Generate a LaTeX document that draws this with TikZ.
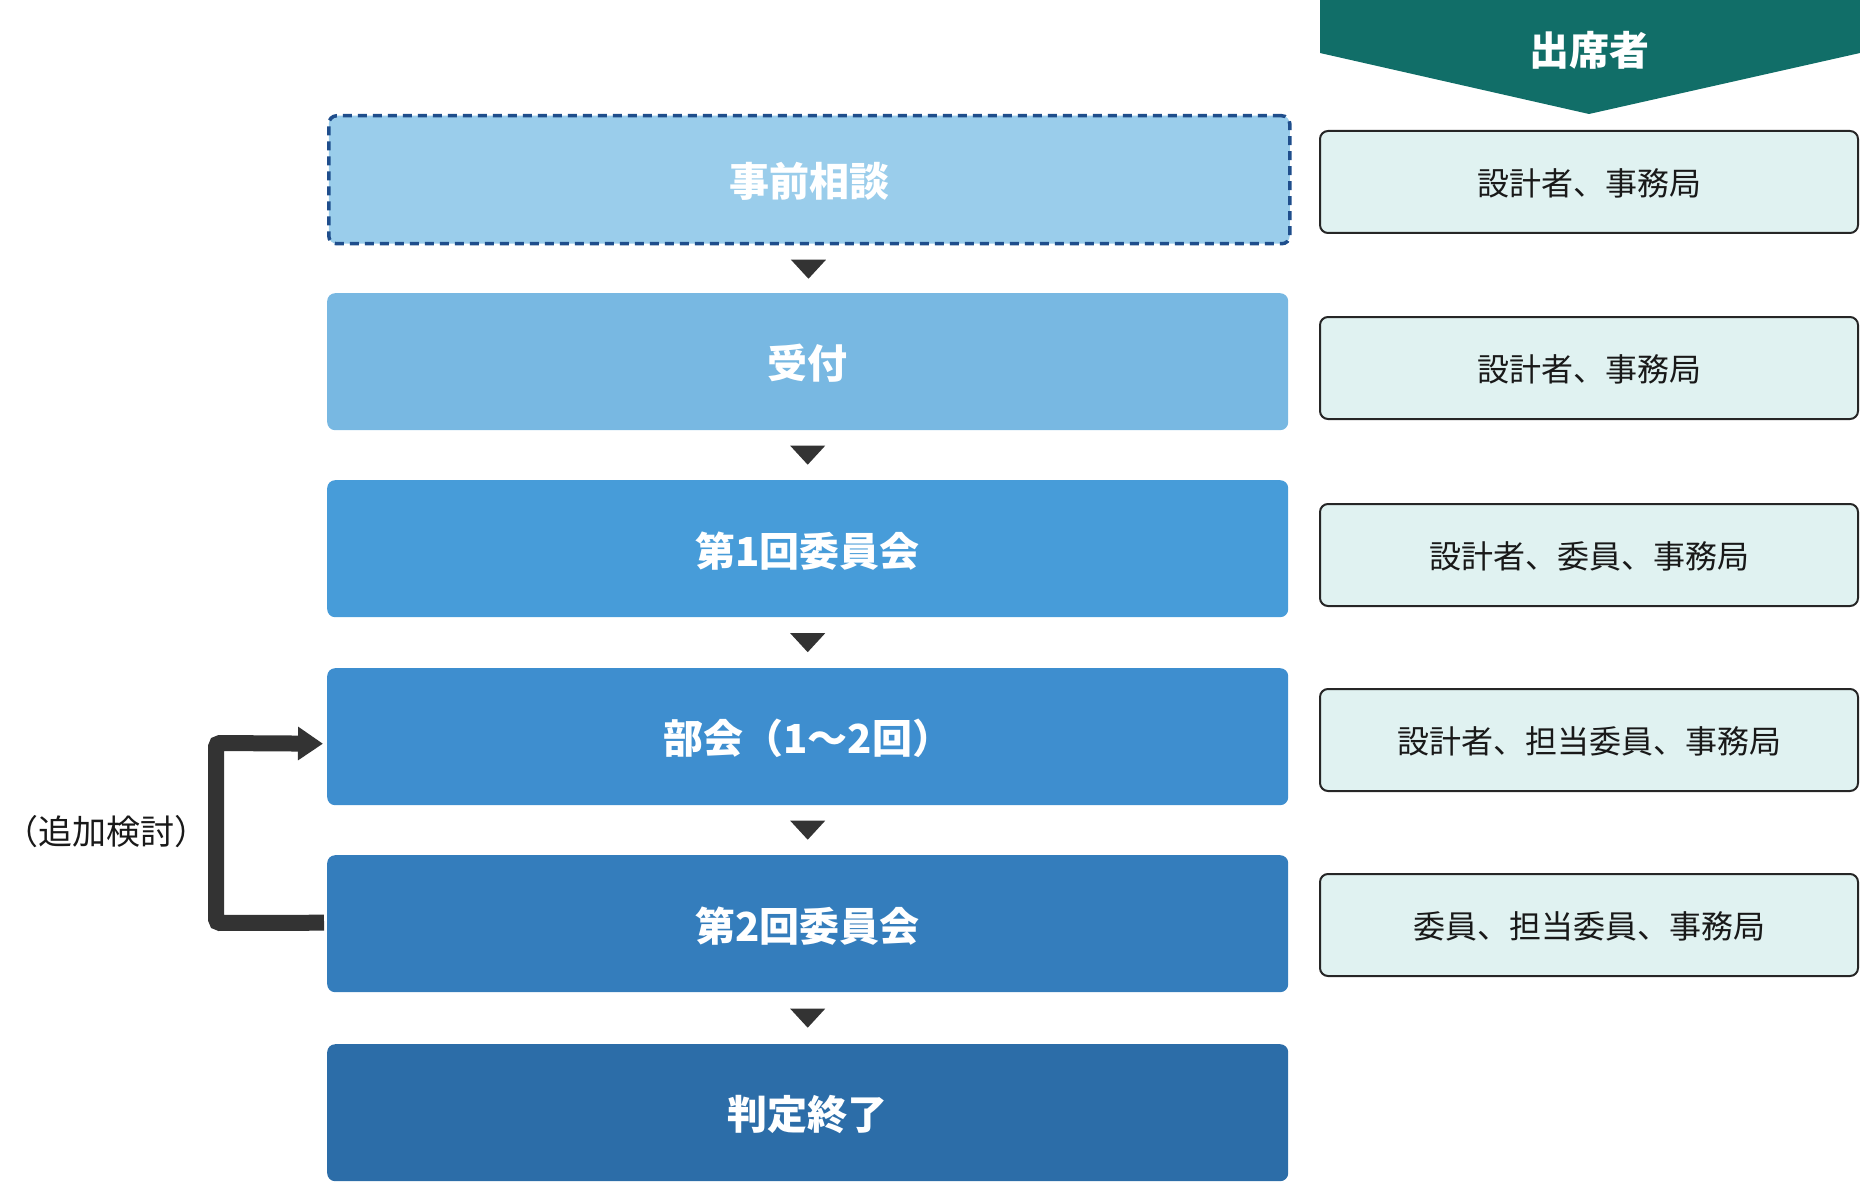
\documentclass[tikz,border=0pt]{standalone}
\usepackage{fontspec}
\setmainfont{Noto Sans CJK JP}
\usetikzlibrary{arrows.meta,calc}
\definecolor{cA}{HTML}{9ACDEB}
\definecolor{cB}{HTML}{78B8E2}
\definecolor{cC}{HTML}{479CD9}
\definecolor{cD}{HTML}{3E8ECF}
\definecolor{cE}{HTML}{347DBC}
\definecolor{cF}{HTML}{2C6DA8}
\definecolor{dashblue}{HTML}{1F4E8C}
\definecolor{teal}{HTML}{116E68}
\definecolor{pale}{HTML}{E0F2F1}
\definecolor{dark}{HTML}{333333}
\tikzset{
  mainbox/.style={rectangle, rounded corners=8pt, minimum width=961pt, minimum height=137pt, inner sep=0pt, anchor=north west, text=white, font=\fontsize{40}{48}\selectfont\bfseries, text depth=-3pt},
  attbox/.style={rectangle, rounded corners=8pt, draw=black!85, line width=2pt, fill=pale, minimum width=538pt, minimum height=102pt, inner sep=0pt, font=\fontsize{32}{38}\selectfont, text=black!90, text depth=-3pt},
  loopline/.style={draw=dark, line width=16pt, rounded corners=4pt}
}
\begin{document}
\begin{tikzpicture}[x=1pt,y=-1pt]
\useasboundingbox (0,0) rectangle (1860,1182);
% banner
\fill[teal] (1320,0) -- (1860,0) -- (1860,53) -- (1589,114) -- (1320,53) -- cycle;
\node[text=white, font=\fontsize{40}{48}\selectfont\bfseries] (hdr) at (1589,50) {出席者};
% main boxes
\node[mainbox, fill=cA, draw=dashblue, line width=3.5pt, dash pattern=on 9pt off 6pt, minimum height=128pt] (m1) at (327,114) {事前相談};
\node[mainbox, fill=cB] (m2) at (327,293) {受付};
\node[mainbox, fill=cC] (m3) at (327,480) {第1回委員会};
\node[mainbox, fill=cD] (m4) at (327,668) {部会（1〜2回）};
\node[mainbox, fill=cE] (m5) at (327,855) {第2回委員会};
\node[mainbox, fill=cF] (m6) at (327,1044) {判定終了};
% separators
\foreach \a/\b in {m1/m2,m2/m3,m3/m4,m4/m5,m5/m6}{
  \coordinate (t) at ($(\a.south)!0.5!(\b.north)$);
  \fill[dark] ($(t)+(-17.5,-9.5)$) -- ($(t)+(17.5,-9.5)$) -- ($(t)+(0,9.5)$) -- cycle;
}
% attendees
\node[attbox] (r1) at (1589,182) {設計者、事務局};
\node[attbox] (r2) at (1589,368) {設計者、事務局};
\node[attbox] (r3) at (1589,555) {設計者、委員、事務局};
\node[attbox] (r4) at (1589,740) {設計者、担当委員、事務局};
\node[attbox] (r5) at (1589,925) {委員、担当委員、事務局};
% loop
\coordinate (lstart) at ($(m5.west)+(-3,-1)$);
\coordinate (lend) at ($(m4.west)+(-4,7)$);
\draw[loopline, -{Triangle[length=25pt,width=32pt]}] (lstart) -- (216,923) -- (216,743) -- (lend);
\node[font=\fontsize{34}{40}\selectfont, text=black!90] (lbl) at (107,832) {（追加検討）};
\end{tikzpicture}
\end{document}
